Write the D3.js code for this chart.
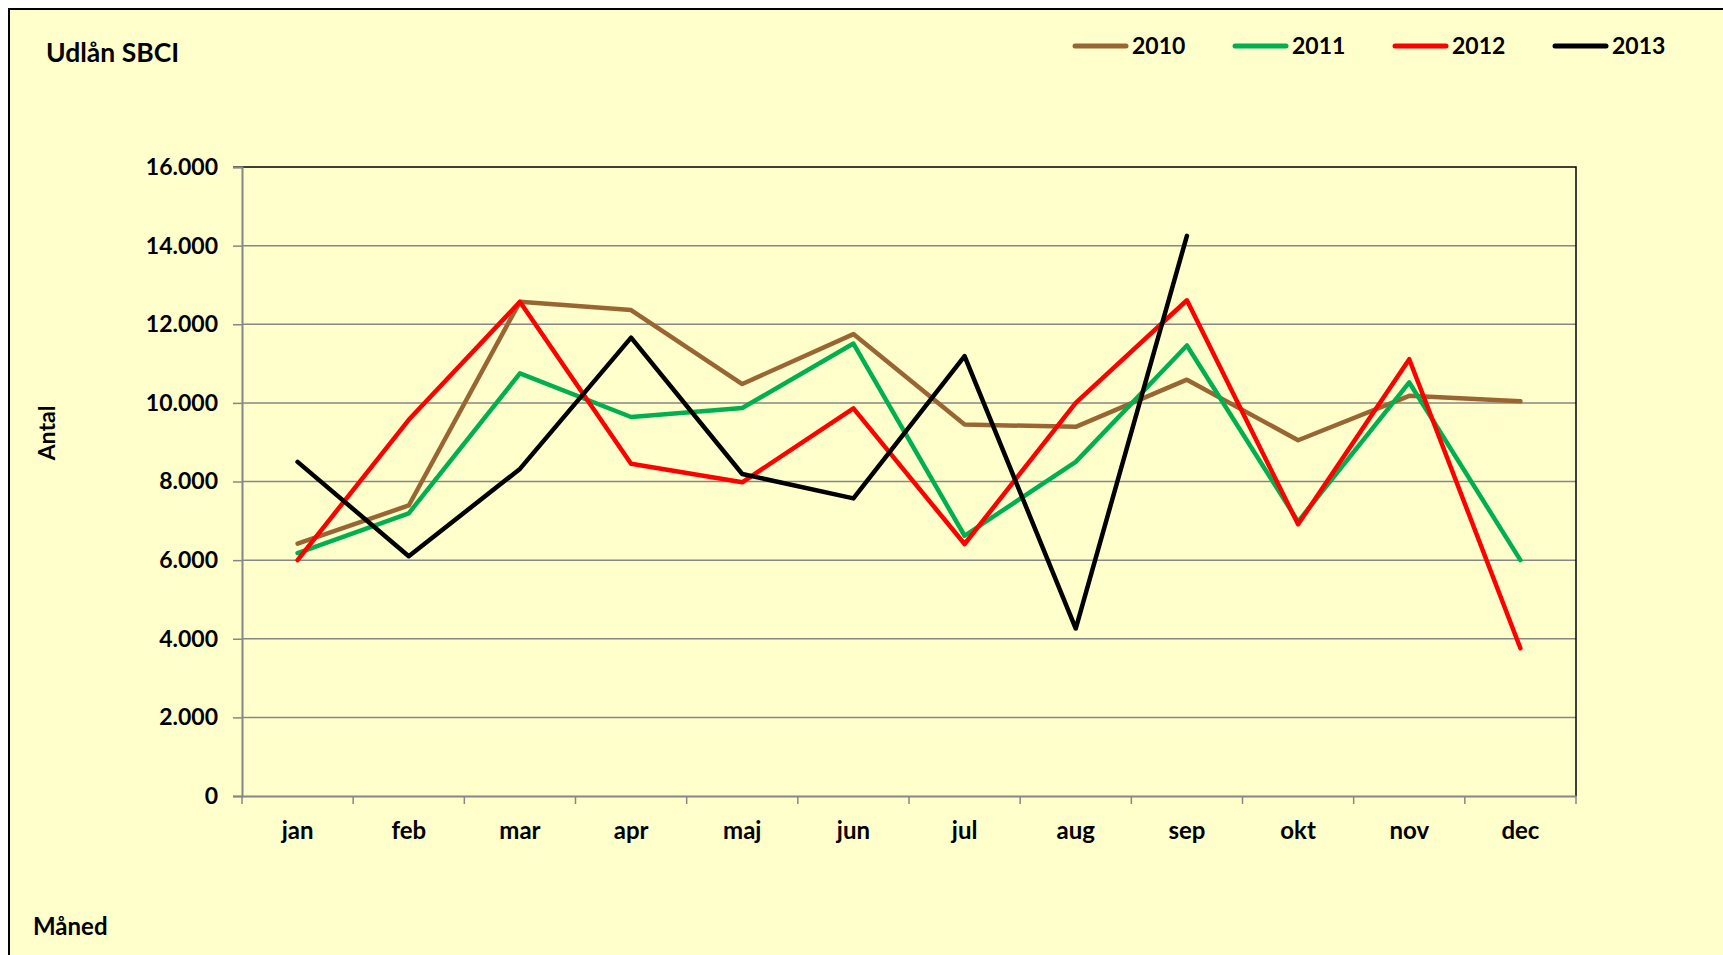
<!DOCTYPE html>
<html>
<head>
<meta charset="utf-8">
<script src="https://cdn.jsdelivr.net/npm/d3@7"></script>
<style>
  html, body { margin: 0; padding: 0; background: #fff; }
  svg { display: block; font-family: Lato, "Open Sans", sans-serif; font-weight: bold; }
</style>
</head>
<body>
<div id="chart"></div>
<script>
// data
var months = ["jan", "feb", "mar", "apr", "maj", "jun", "jul", "aug", "sep", "okt", "nov", "dec"];
var years = ["2010", "2011", "2012", "2013"];
var v2010 = [6420, 7390, 12570, 12360, 10480, 11750, 9450, 9390, 10590, 9050, 10180, 10040];
var v2011 = [6180, 7190, 10750, 9640, 9870, 11510, 6620, 8500, 11460, 6980, 10520, 6000];
var v2012 = [6000, 9570, 12570, 8450, 7980, 9860, 6410, 10000, 12610, 6910, 11110, 3760];
var v2013 = [8500, 6100, 8320, 11660, 8190, 7570, 11190, 4260, 14250];
var yTicks = [0, 2000, 4000, 6000, 8000, 10000, 12000, 14000, 16000];
var colors = ["#996633", "#00B050", "#FF0000", "#000000"];

var W = 1723, H = 955;
var plot = {left: 242, right: 1576, top: 167, bottom: 796};

var svg = d3.select("#chart").append("svg")
    .attr("width", W)
    .attr("height", H);

// chart area background + border
svg.append("rect")
    .attr("x", 9).attr("y", 9)
    .attr("width", W).attr("height", H)
    .attr("fill", "#FFFFCC")
    .attr("stroke", "#000")
    .attr("stroke-width", 2);

var x = d3.scaleBand().domain(months).range([plot.left, plot.right]);
var y = d3.scaleLinear().domain([0, 16000]).range([plot.bottom, plot.top]);
var fmt = function(d) { return d3.format(",")(d).replace(/,/g, "."); };

// gridlines
svg.append("g")
    .selectAll("line")
    .data(yTicks.slice(1, -1))
    .join("line")
        .attr("x1", plot.left).attr("x2", plot.right)
        .attr("y1", d => y(d)).attr("y2", d => y(d))
        .attr("stroke", "#868686")
        .attr("stroke-width", 1.5);

// top / right border of plot area
svg.append("path")
    .attr("d", "M" + (plot.left - 9) + "," + plot.top + "H" + plot.right + "V" + plot.bottom)
    .attr("fill", "none")
    .attr("stroke", "#000")
    .attr("stroke-width", 1.5);

// y axis
var yAxis = svg.append("g")
    .attr("transform", "translate(" + plot.left + ",0)")
    .call(d3.axisLeft(y).tickValues(yTicks).tickFormat(fmt).tickSize(9).tickPadding(15));
yAxis.select(".domain").attr("stroke", "#868686").attr("stroke-width", 2);
yAxis.selectAll(".tick line").attr("stroke", "#868686").attr("stroke-width", 1.5);
yAxis.selectAll("text")
    .attr("font-size", 23)
    .attr("font-family", "Lato, sans-serif")
    .attr("font-weight", "bold")
    .attr("fill", "#000");

// x axis, ticks on band boundaries
var xAxis = svg.append("g")
    .attr("transform", "translate(0," + plot.bottom + ")")
    .call(d3.axisBottom(x).tickSize(0).tickPadding(26));
xAxis.select(".domain").attr("stroke", "#868686").attr("stroke-width", 2);
xAxis.selectAll("text")
    .attr("font-size", 24)
    .attr("font-family", "Lato, sans-serif")
    .attr("font-weight", "bold")
    .attr("fill", "#000");
xAxis.selectAll("line.edge")
    .data(d3.range(months.length + 1))
    .join("line")
        .attr("class", "edge")
        .attr("x1", i => plot.left + i * x.step())
        .attr("x2", i => plot.left + i * x.step())
        .attr("y1", 0).attr("y2", 8)
        .attr("stroke", "#868686")
        .attr("stroke-width", 1.5);

// series lines
var series = [v2010, v2011, v2012, v2013];
var line = d3.line()
    .x((d, i) => x(months[i]) + x.bandwidth() / 2)
    .y(d => y(d));

svg.append("g")
    .selectAll("path")
    .data(series)
    .join("path")
        .attr("d", d => line(d))
        .attr("fill", "none")
        .attr("stroke", (d, i) => colors[i])
        .attr("stroke-width", 4.5)
        .attr("stroke-linejoin", "round")
        .attr("stroke-linecap", "round");

// title and axis titles
svg.append("text")
    .attr("x", 46).attr("y", 62)
    .attr("font-size", 26.5)
    .text("Udlån SBCI");

svg.append("text")
    .attr("transform", "translate(55,433) rotate(-90)")
    .attr("text-anchor", "middle")
    .attr("font-size", 23)
    .text("Antal");

svg.append("text")
    .attr("x", 33).attr("y", 935)
    .attr("font-size", 24)
    .text("Måned");

// legend
var legend = svg.append("g")
    .selectAll("g")
    .data(years)
    .join("g")
        .attr("transform", (d, i) => "translate(" + (1075 + i * 160) + ",46)");

legend.append("line")
    .attr("x1", 0).attr("x2", 51)
    .attr("stroke", (d, i) => colors[i])
    .attr("stroke-width", 5)
    .attr("stroke-linecap", "round");

legend.append("text")
    .attr("x", 57).attr("y", 8)
    .attr("font-size", 23)
    .text(d => d);
</script>
</body>
</html>
